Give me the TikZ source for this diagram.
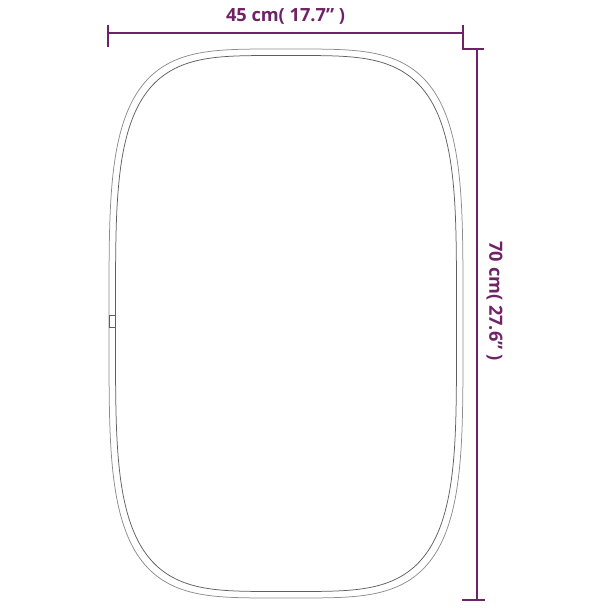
\documentclass[tikz,border=0pt]{standalone}
\usepackage{fontspec}
\setmainfont{Open Sans}
\definecolor{dimc}{RGB}{112,34,102}
\definecolor{rimA}{RGB}{140,140,140}
\definecolor{rimB}{RGB}{95,95,95}
\tikzset{
  dimline/.style={draw=dimc, line width=1.5pt},
  rimouter/.style={draw=rimA, line width=0.75pt},
  riminner/.style={draw=rimB, line width=0.75pt},
  dimlabel/.style={text=dimc, font=\bfseries\fontsize{18.2}{20}\selectfont, inner sep=0pt}
}
\begin{document}
\begin{tikzpicture}[x=1pt,y=-1pt]
\useasboundingbox (0,0) rectangle (610,610);
% mirror rim (superellipse, n=4)
\draw[rimouter] plot[variable=\t, domain=0:359, samples=360]
  ({286+177*sign(cos(\t))*sqrt(abs(cos(\t)))}, {323.5+274.5*sign(sin(\t))*sqrt(abs(sin(\t)))}) -- cycle;
\draw[riminner] plot[variable=\t, domain=0:359, samples=360]
  ({286+170.5*sign(cos(\t))*sqrt(abs(cos(\t)))}, {323.5+268*sign(sin(\t))*sqrt(abs(sin(\t)))}) -- cycle;
% small joint on the left
\draw[riminner] (109,315) rectangle (115.5,327);
% horizontal dimension
\coordinate (hl) at (108,33);
\coordinate (hr) at (463,33);
\draw[dimline] (hl) -- (hr);
\draw[dimline] (108,25) -- (108,47);
\draw[dimline] (463,25) -- (463,49) -- (484,49);
\node[dimlabel] (wlab) at (285.5,16.5) {45 cm( 17.7” )};
% vertical dimension
\coordinate (vt) at (477,49);
\coordinate (vb) at (477,600);
\draw[dimline] (vt) -- (vb);
\draw[dimline] (462,600) -- (485,600);
\node[dimlabel, rotate=-90] (hlab) at (494.5,301) {70 cm( 27.6” )};
\end{tikzpicture}
\end{document}
